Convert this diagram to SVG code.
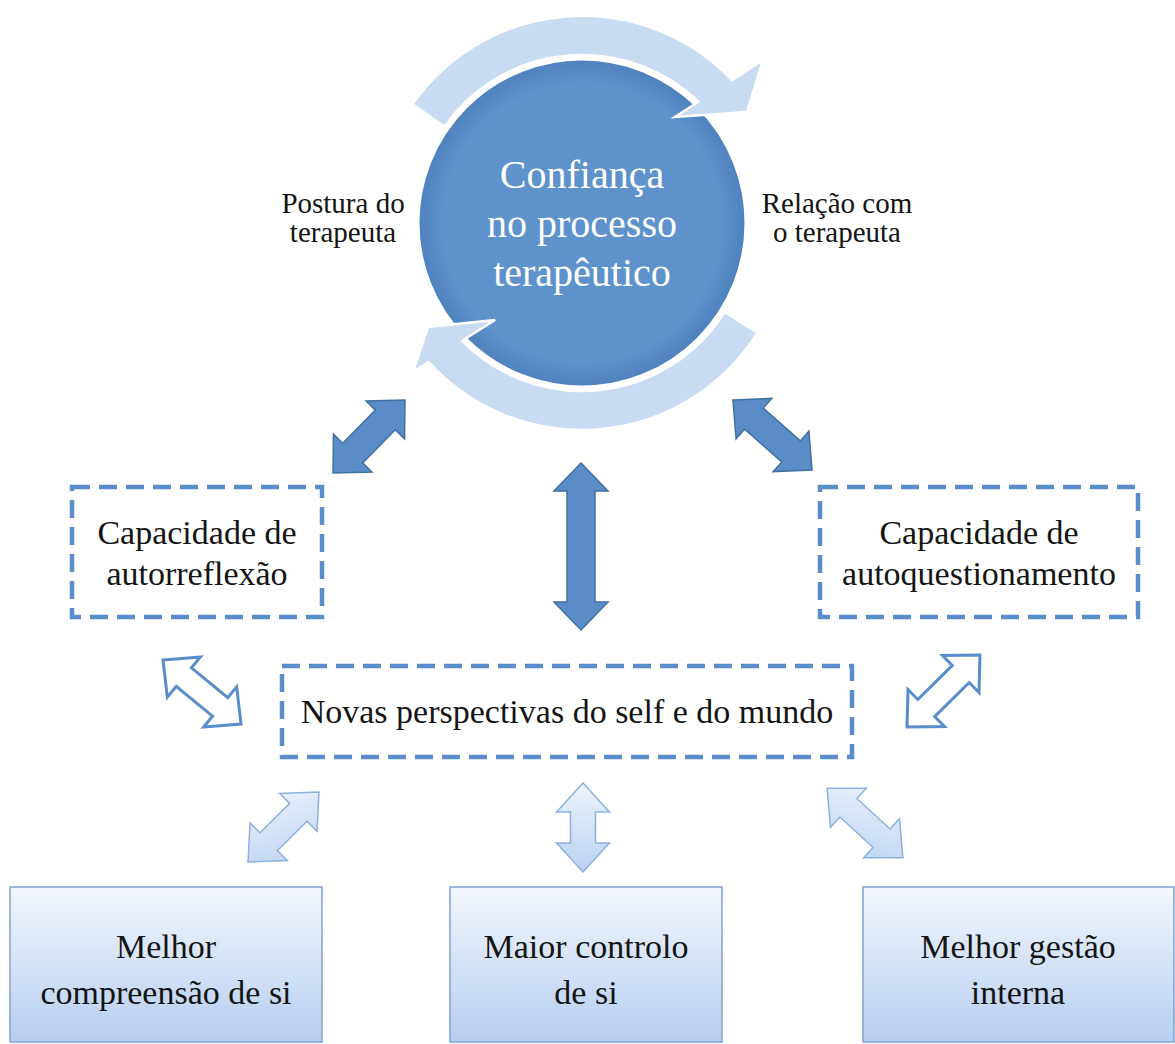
<svg xmlns="http://www.w3.org/2000/svg" width="1175" height="1044" viewBox="0 0 1175 1044">
<defs>
<style>
.txt{font-family:"Liberation Serif","Times New Roman",serif;fill:#141414;text-anchor:middle}
.big{font-size:34px}
.side{font-size:29px}
.ctr{font-size:40px;fill:#ffffff}
.dash{fill:#ffffff;stroke:#5A8DC9;stroke-width:4.5;stroke-dasharray:18 9}
.solid{fill:url(#gBox);stroke:#7FA3D1;stroke-width:1.5}
.dark{fill:#5A8DC8;stroke:#41719F;stroke-width:1.5;stroke-linejoin:miter}
.outl{fill:#ffffff;stroke:#5A8DC9;stroke-width:3;stroke-linejoin:miter}
.band{fill:#C9DBF1;stroke:#ffffff;stroke-width:2.5;stroke-linejoin:miter}
.soft{stroke:#8DB1DE;stroke-width:1.5;stroke-linejoin:miter}
</style>
<linearGradient id="gBox" x1="0" y1="0" x2="0" y2="1">
<stop offset="0" stop-color="#F3F7FD"/>
<stop offset="1" stop-color="#B6CEEF"/>
</linearGradient>
<linearGradient id="gMid" x1="0" y1="0" x2="1" y2="0">
<stop offset="0" stop-color="#EEF4FC"/>
<stop offset="1" stop-color="#BBD2F0"/>
</linearGradient>
<linearGradient id="gLeft" x1="1" y1="0" x2="0" y2="1">
<stop offset="0" stop-color="#EEF4FC"/>
<stop offset="1" stop-color="#BBD2F0"/>
</linearGradient>
<linearGradient id="gRight" x1="0" y1="0" x2="1" y2="1">
<stop offset="0" stop-color="#EEF4FC"/>
<stop offset="1" stop-color="#BBD2F0"/>
</linearGradient>
<radialGradient id="gCirc" cx="0.5" cy="0.5" r="0.5">
<stop offset="0.85" stop-color="#5D92CB"/>
<stop offset="1" stop-color="#4E81BD"/>
</radialGradient>
</defs>

<g id="node-confianca">
<circle cx="582" cy="223" r="164" fill="url(#gCirc)" stroke="#ffffff" stroke-width="3"/>
<path class="band" d="M 412.4,104.3 A 207 207 0 0 1 732.0,80.1 L 763,60 L 747,112 L 675,117 L 698.4,101.8 A 168 168 0 0 0 444.4,126.6 Z"/>
<path class="band" d="M 757.5,332.7 A 207 207 0 0 1 428.6,362.1 L 413,372 L 428,327 L 495,320 L 462.2,340.8 A 168 168 0 0 0 724.5,312 Z"/>
<text class="txt ctr" x="582" y="188">Confiança</text>
<text class="txt ctr" x="582" y="237">no processo</text>
<text class="txt ctr" x="582" y="286">terapêutico</text>
</g>

<g id="label-postura">
<text class="txt side" x="343" y="213">Postura do</text>
<text class="txt side" x="343" y="242">terapeuta</text>
</g>

<g id="label-relacao">
<text class="txt side" x="837" y="213">Relação com</text>
<text class="txt side" x="837" y="242">o terapeuta</text>
</g>

<g id="node-autorreflexao">
<rect class="dash" x="72" y="487" width="250" height="130"/>
<text class="txt big" x="197" y="544">Capacidade de</text>
<text class="txt big" x="197" y="585">autorreflexão</text>
</g>

<g id="node-autoquestionamento">
<rect class="dash" x="820" y="487" width="318" height="130"/>
<text class="txt big" x="979" y="544">Capacidade de</text>
<text class="txt big" x="979" y="585">autoquestionamento</text>
</g>

<g id="node-novas">
<rect class="dash" x="282" y="666" width="570" height="91"/>
<text class="txt big" x="567" y="723">Novas perspectivas do self e do mundo</text>
</g>

<g id="node-compreensao">
<rect class="solid" x="10" y="887" width="312" height="155"/>
<text class="txt big" x="166" y="958">Melhor</text>
<text class="txt big" x="166" y="1004">compreensão de si</text>
</g>

<g id="node-controlo">
<rect class="solid" x="450" y="887" width="272" height="155"/>
<text class="txt big" x="586" y="958">Maior controlo</text>
<text class="txt big" x="586" y="1004">de si</text>
</g>

<g id="node-gestao">
<rect class="solid" x="863" y="887" width="311" height="155"/>
<text class="txt big" x="1018" y="958">Melhor gestão</text>
<text class="txt big" x="1018" y="1004">interna</text>
</g>

<g id="connectors">
<path class="dark" transform="translate(581,546.5) rotate(90)" d="M -83.5,0 L -55.5,-27 L -55.5,-14 L 55.5,-14 L 55.5,-27 L 83.5,0 L 55.5,27 L 55.5,14 L -55.5,14 L -55.5,27 Z"/>
<path class="dark" transform="translate(369,436.5) rotate(-45.4)" d="M -51.25,0 L -23.25,-27 L -23.25,-14 L 23.25,-14 L 23.25,-27 L 51.25,0 L 23.25,27 L 23.25,14 L -23.25,14 L -23.25,27 Z"/>
<path class="dark" transform="translate(772.5,435) rotate(41.5)" d="M -52.75,0 L -24.75,-27 L -24.75,-14 L 24.75,-14 L 24.75,-27 L 52.75,0 L 24.75,27 L 24.75,14 L -24.75,14 L -24.75,27 Z"/>
<path class="outl" transform="translate(202,692) rotate(39.4)" d="M -50.5,0 L -23.5,-26 L -23.5,-12 L 23.5,-12 L 23.5,-26 L 50.5,0 L 23.5,26 L 23.5,12 L -23.5,12 L -23.5,26 Z"/>
<path class="outl" transform="translate(943.5,691) rotate(-44.6)" d="M -51.25,0 L -24.25,-26 L -24.25,-12 L 24.25,-12 L 24.25,-26 L 51.25,0 L 24.25,26 L 24.25,12 L -24.25,12 L -24.25,26 Z"/>
<path class="soft" fill="url(#gMid)" transform="translate(583,827.5) rotate(90)" d="M -44.5,0 L -15.5,-26.5 L -15.5,-12.5 L 15.5,-12.5 L 15.5,-26.5 L 44.5,0 L 15.5,26.5 L 15.5,12.5 L -15.5,12.5 L -15.5,26.5 Z"/>
<path class="soft" fill="url(#gLeft)" transform="translate(283.5,827) rotate(-44.6)" d="M -49.85,0 L -20.85,-26.5 L -20.85,-12.5 L 20.85,-12.5 L 20.85,-26.5 L 49.85,0 L 20.85,26.5 L 20.85,12.5 L -20.85,12.5 L -20.85,26.5 Z"/>
<path class="soft" fill="url(#gRight)" transform="translate(865,823) rotate(42.6)" d="M -51.5,0 L -22.5,-26.5 L -22.5,-12.5 L 22.5,-12.5 L 22.5,-26.5 L 51.5,0 L 22.5,26.5 L 22.5,12.5 L -22.5,12.5 L -22.5,26.5 Z"/>
</g>
</svg>
